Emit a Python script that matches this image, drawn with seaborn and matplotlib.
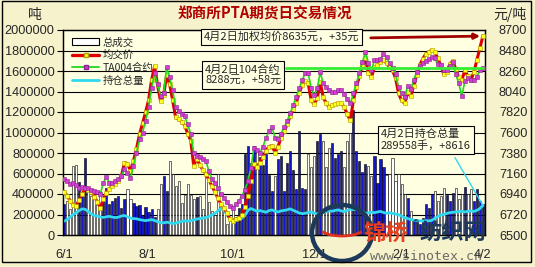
import matplotlib
matplotlib.use("Agg")
import matplotlib.pyplot as plt
import seaborn as sns
import numpy as np
import pandas as pd
from matplotlib.lines import Line2D
from matplotlib.patches import Patch, Rectangle, Ellipse, Arc

# ---------------- data ----------------
title = "郑商所PTA期货日交易情况"
series_names = ["总成交", "均交价", "TA004合约", "持仓总量"]
xtick_pos = [0, 27.5, 56, 83, 112, 139]
xtick_labels = ["6/1", "8/1", "10/1", "12/1", "2/1", "4/2"]
left_ticks = [0, 200000, 400000, 600000, 800000, 1000000, 1200000, 1400000, 1600000, 1800000, 2000000]
right_ticks = [6500, 6720, 6940, 7160, 7380, 7600, 7820, 8040, 8260, 8480, 8700]

volume = [300000, 330000, 250000, 670000, 680000, 520000, 420000, 750000, 460000, 380000,
          400000, 300000, 430000, 350000, 460000, 300000, 330000, 360000, 380000, 260000,
          350000, 450000, 350000, 310000, 280000, 290000, 200000, 270000, 220000, 250000,
          180000, 250000, 500000, 580000, 430000, 720000, 600000, 480000, 530000, 310000,
          390000, 500000, 390000, 350000, 370000, 380000, 250000, 600000, 320000, 230000,
          200000, 600000, 310000, 240000, 110000, 140000, 270000, 180000, 260000, 300000,
          790000, 870000, 700000, 870000, 820000, 760000, 680000, 790000, 590000, 430000,
          580000, 740000, 770000, 430000, 700000, 820000, 630000, 450000, 1010000, 460000,
          450000, 790000, 660000, 770000, 920000, 990000, 920000, 660000, 850000, 900000,
          750000, 790000, 820000, 660000, 920000, 1000000, 1220000, 820000, 720000, 610000,
          690000, 670000, 580000, 770000, 510000, 740000, 660000, 590000, 600000, 750000,
          530000, 600000, 500000, 400000, 360000, 230000, 160000, 130000, 110000, 170000,
          300000, 260000, 400000, 430000, 330000, 380000, 460000, 390000, 330000, 410000,
          460000, 350000, 400000, 470000, 400000, 450000, 330000, 450000, 330000, 300000]

avg_price = [6965, 6920, 6867, 6823, 6813, 6878, 6942, 7007, 6985, 6965,
             6910, 6856, 6791, 6888, 6953, 6996, 7028, 7050, 7082, 7136,
             7276, 7266, 7190, 7298, 7427, 7579, 7697, 7816, 7945, 8161,
             8312, 8107, 7934, 8000, 8215, 8118, 7945, 7762, 7740, 7718,
             7675, 7589, 7514, 7244, 7320, 7255, 7200, 7158, 7093, 7028,
             6964, 6899, 6834, 6791, 6737, 6673, 6651, 6673, 6683, 6716,
             6802, 6920, 7082, 7266, 7233, 7276, 7341, 7406, 7449, 7460,
             7384, 7449, 7546, 7611, 7686, 7773, 7848, 7913, 8021, 8107,
             8150, 8128, 7945, 7902, 7967, 8139, 7977, 7913, 7870, 7892,
             7902, 7913, 7913, 7870, 7794, 7729, 7945, 8085, 8204, 8322,
             8398, 8236, 8193, 8301, 8322, 8355, 8376, 8344, 8301, 8269,
             8182, 8021, 7945, 7913, 8031, 7988, 8096, 8215, 8322, 8387,
             8441, 8463, 8484, 8463, 8398, 8322, 8225, 8247, 8333, 8366,
             8279, 8193, 8161, 8269, 8204, 8161, 8247, 8376, 8506, 8635]

ta004 = [7104, 7082, 7050, 7060, 7039, 7007, 7017, 7007, 7007, 6985,
         6975, 6964, 6942, 7060, 7125, 7060, 7060, 7082, 7104, 7136,
         7212, 7169, 7115, 7244, 7384, 7525, 7600, 7719, 7870, 8074,
         8236, 8118, 7988, 8021, 8301, 8193, 8053, 7870, 7827, 7794,
         7772, 7686, 7589, 7384, 7352, 7341, 7320, 7298, 7190, 7104,
         7060, 7007, 6942, 6899, 6856, 6813, 6791, 6834, 6867, 6920,
         6985, 7082, 7223, 7438, 7417, 7384, 7449, 7546, 7611, 7654,
         7546, 7535, 7589, 7654, 7719, 7805, 7892, 7977, 8074, 8161,
         8236, 8236, 8074, 8000, 8074, 8247, 8128, 8085, 8053, 8031,
         8031, 8053, 8053, 8010, 7956, 7913, 8021, 8128, 8236, 8355,
         8463, 8344, 8269, 8376, 8376, 8387, 8441, 8409, 8344, 8290,
         8225, 8085, 8021, 7977, 8096, 8063, 8161, 8247, 8312, 8344,
         8366, 8387, 8409, 8398, 8333, 8322, 8269, 8269, 8312, 8355,
         8225, 8128, 7988, 8150, 8182, 8161, 8161, 8193, 8269, 8288]

open_interest = [135000, 150000, 175000, 200000, 215000, 240000, 255000, 250000, 228000, 205000,
                 190000, 185000, 175000, 172000, 178000, 182000, 175000, 170000, 175000, 185000,
                 190000, 178000, 165000, 160000, 158000, 150000, 145000, 140000, 145000, 150000,
                 142000, 130000, 122000, 118000, 125000, 120000, 112000, 115000, 125000, 132000,
                 138000, 135000, 140000, 148000, 155000, 160000, 165000, 170000, 180000, 195000,
                 210000, 235000, 255000, 240000, 200000, 160000, 150000, 148000, 155000, 165000,
                 190000, 240000, 258000, 245000, 232000, 238000, 230000, 222000, 238000, 245000,
                 232000, 225000, 235000, 240000, 245000, 255000, 242000, 228000, 215000, 208000,
                 212000, 220000, 225000, 212000, 205000, 215000, 220000, 230000, 238000, 232000,
                 240000, 245000, 235000, 228000, 240000, 252000, 248000, 255000, 242000, 230000,
                 210000, 215000, 222000, 218000, 225000, 230000, 220000, 212000, 218000, 210000,
                 205000, 198000, 185000, 168000, 160000, 152000, 145000, 140000, 138000, 136000,
                 140000, 138000, 142000, 160000, 180000, 195000, 200000, 210000, 218000, 222000,
                 225000, 228000, 232000, 225000, 230000, 235000, 230000, 240000, 258000, 289558]

note_price = "4月2日加权均价8635元，+35元"
note_contract = "4月2日104合约\n8288元，+58元"
note_oi = "4月2日持仓总量\n289558手，+8616"

# ---------------- figure ----------------
W, H = 535, 267
FIG_BG = "#F6F2CC"
PLOT_BG = "#FFFFE2"
CJK = ["Noto Sans CJK SC", "DejaVu Sans"]
NUM = ["Liberation Sans", "DejaVu Sans"]

sns.set_theme(style="white")
plt.rcParams["font.family"] = CJK

def fx(px):
    return px / W

def fy(py):
    return 1 - py / H

n = len(volume)
idx = np.arange(n)
df = pd.DataFrame({
    "i": idx,
    "volume": volume,
    "avg": avg_price,
    "ta": ta004,
    "oi": open_interest,
})
df["dir"] = ["up" if k == 0 or df["avg"][k] >= df["avg"][k - 1] else "down" for k in range(n)]

fig = plt.figure(figsize=(W / 100, H / 100), dpi=100, facecolor=FIG_BG)
ax = fig.add_axes([fx(63), 1 - 235 / H, fx(485) - fx(63), (235 - 30) / H])
ax.set_facecolor(PLOT_BG)

# bars
sns.barplot(data=df, x="i", y="volume", hue="dir", palette={"up": "#1414C8", "down": "#FFFFFF"},
            native_scale=True, width=0.7, saturation=1, edgecolor="#000000", linewidth=0.4,
            legend=False, ax=ax, zorder=2)
# open interest
sns.lineplot(data=df, x="i", y="oi", color="#30D8F0", linewidth=2.0, ax=ax, zorder=4)

ax.set_ylim(0, 2000000)
ax.set_xlim(-0.4, 139.7)
ax.set_yticks(left_ticks)
ax.set_yticklabels([str(v) for v in left_ticks], fontsize=9.2, family=NUM)
ax.set_xticks(xtick_pos)
ax.set_xticklabels(xtick_labels, fontsize=9.2, family=NUM)
ax.tick_params(axis="x", length=0, pad=10)
ax.tick_params(axis="y", length=4, width=0.8, pad=2, direction="out", color="black")
for yv in left_ticks[1:-1]:
    ax.axhline(yv, color="black", linewidth=0.8, zorder=1)
ax.set_xlabel("")
ax.set_ylabel("")
for s in ax.spines.values():
    s.set_color("black")
    s.set_linewidth(0.9)

# price axis
ax2 = ax.twinx()
ax2.patch.set_visible(False)
sns.lineplot(data=df, x="i", y="avg", color="#DD0000", linewidth=2.2, marker="s", markersize=2.6,
             markerfacecolor="#FFFF20", markeredgecolor="#B0A000", markeredgewidth=0.4, ax=ax2, zorder=5)
sns.lineplot(data=df, x="i", y="ta", color="#20D820", linewidth=1.2, marker="s", markersize=2.6,
             markerfacecolor="#D040D0", markeredgecolor="#902090", markeredgewidth=0.4, ax=ax2, zorder=6)
ax2.set_ylim(6500, 8700)
ax2.set_xlim(-0.4, 139.7)
ax2.set_yticks(right_ticks)
ax2.set_yticklabels([str(v) for v in right_ticks], fontsize=9.2, family=NUM)
ax2.tick_params(axis="y", length=0, pad=10)
ax2.set_ylabel("")
ax2.set_xlabel("")
for s in ax2.spines.values():
    s.set_color("black")
    s.set_linewidth(0.9)

# annotation leader lines (drawn on price axis)
last = n - 1
ax2.annotate("", xy=(last, avg_price[-1]), xytext=((368 - 64) / 3.014, 8615),
             arrowprops=dict(arrowstyle="-|>", color="#A00000", lw=2.0, mutation_scale=8), zorder=7)
ax2.plot([(286 - 64) / 3.014, last], [ta004[-1], ta004[-1]], color="#33EE33", lw=2.0, zorder=7)
ax.plot([(455 - 64) / 3.014, last], [(234 - 157) * 9804, open_interest[-1]], color="#30D8F0", lw=1.0, zorder=7)

# note boxes
box = dict(boxstyle="square,pad=0.25", facecolor=PLOT_BG, edgecolor="black", linewidth=0.8)
fig.text(fx(204), fy(37), note_price, fontsize=8, va="center", ha="left", bbox=box, zorder=10)
fig.text(fx(205), fy(75), note_contract, fontsize=8, va="center", ha="left", bbox=box,
         linespacing=1.15, zorder=10)
fig.text(fx(381), fy(140), note_oi, fontsize=8, va="center", ha="left", bbox=box,
         linespacing=1.15, zorder=10)

# legend
handles = [
    Patch(facecolor="white", edgecolor="black", linewidth=0.8),
    Line2D([], [], color="#DD0000", lw=2.4, marker="s", markersize=3, markerfacecolor="#FFFF20",
           markeredgecolor="#B0A000", markevery=[1]),
    Line2D([], [], color="#20D820", lw=1.3, marker="s", markersize=3, markerfacecolor="#D040D0",
           markeredgecolor="#902090", markevery=[1]),
    Line2D([], [], color="#30D8F0", lw=2.0),
]
leg = ax2.legend(handles, series_names, loc="upper left", bbox_to_anchor=(fx(68), fy(33)),
                 bbox_transform=fig.transFigure, frameon=False, fontsize=7.5, handlelength=2.6,
                 handleheight=0.7, labelspacing=0.25, handletextpad=0.3, borderaxespad=0)
leg.set_zorder(20)

# titles and unit labels
fig.text(fx(265), fy(14), title, fontsize=10.5, fontweight="bold", color="#B00000",
         ha="center", va="center")
fig.text(fx(35), fy(15), "吨", fontsize=10, ha="center", va="center")
fig.text(fx(510), fy(15), "元/吨", fontsize=10, ha="center", va="center")

# watermark
fig.add_artist(Ellipse((fx(342), fy(233)), 60 / W, 56 / H, transform=fig.transFigure, fill=False,
                       edgecolor="#1E3A5A", linewidth=3.2, zorder=15))
fig.add_artist(Arc((fx(342), fy(228)), 44 / W, 16 / H, theta1=200, theta2=340,
                   transform=fig.transFigure, edgecolor="#E03020", linewidth=2.0, zorder=16))
fig.text(fx(364), fy(233), "锦桥", fontsize=16, fontweight="bold", color="#E8401F",
         ha="left", va="center", zorder=16)
fig.text(fx(416), fy(224), "®", fontsize=6, color="#1E3A5A", ha="center", va="center",
         family=["DejaVu Sans"], zorder=16)
fig.text(fx(420), fy(233), "纺织网", fontsize=16, fontweight="bold", color="#1E3A5A",
         ha="left", va="center", zorder=16)
fig.text(fx(426), fy(256), "www.sinotex.cn", fontsize=9.5, color="#555555", ha="center",
         va="center", family=["DejaVu Sans Mono", "DejaVu Sans"], alpha=0.85, zorder=16)

# outer frame
fig.add_artist(Rectangle((fx(2), fy(262)), fx(531) - fx(2), fy(1) - fy(262), transform=fig.transFigure,
                         fill=False, edgecolor="black", linewidth=1.0, zorder=30))

fig.savefig("out.png", dpi=100, facecolor=FIG_BG)
